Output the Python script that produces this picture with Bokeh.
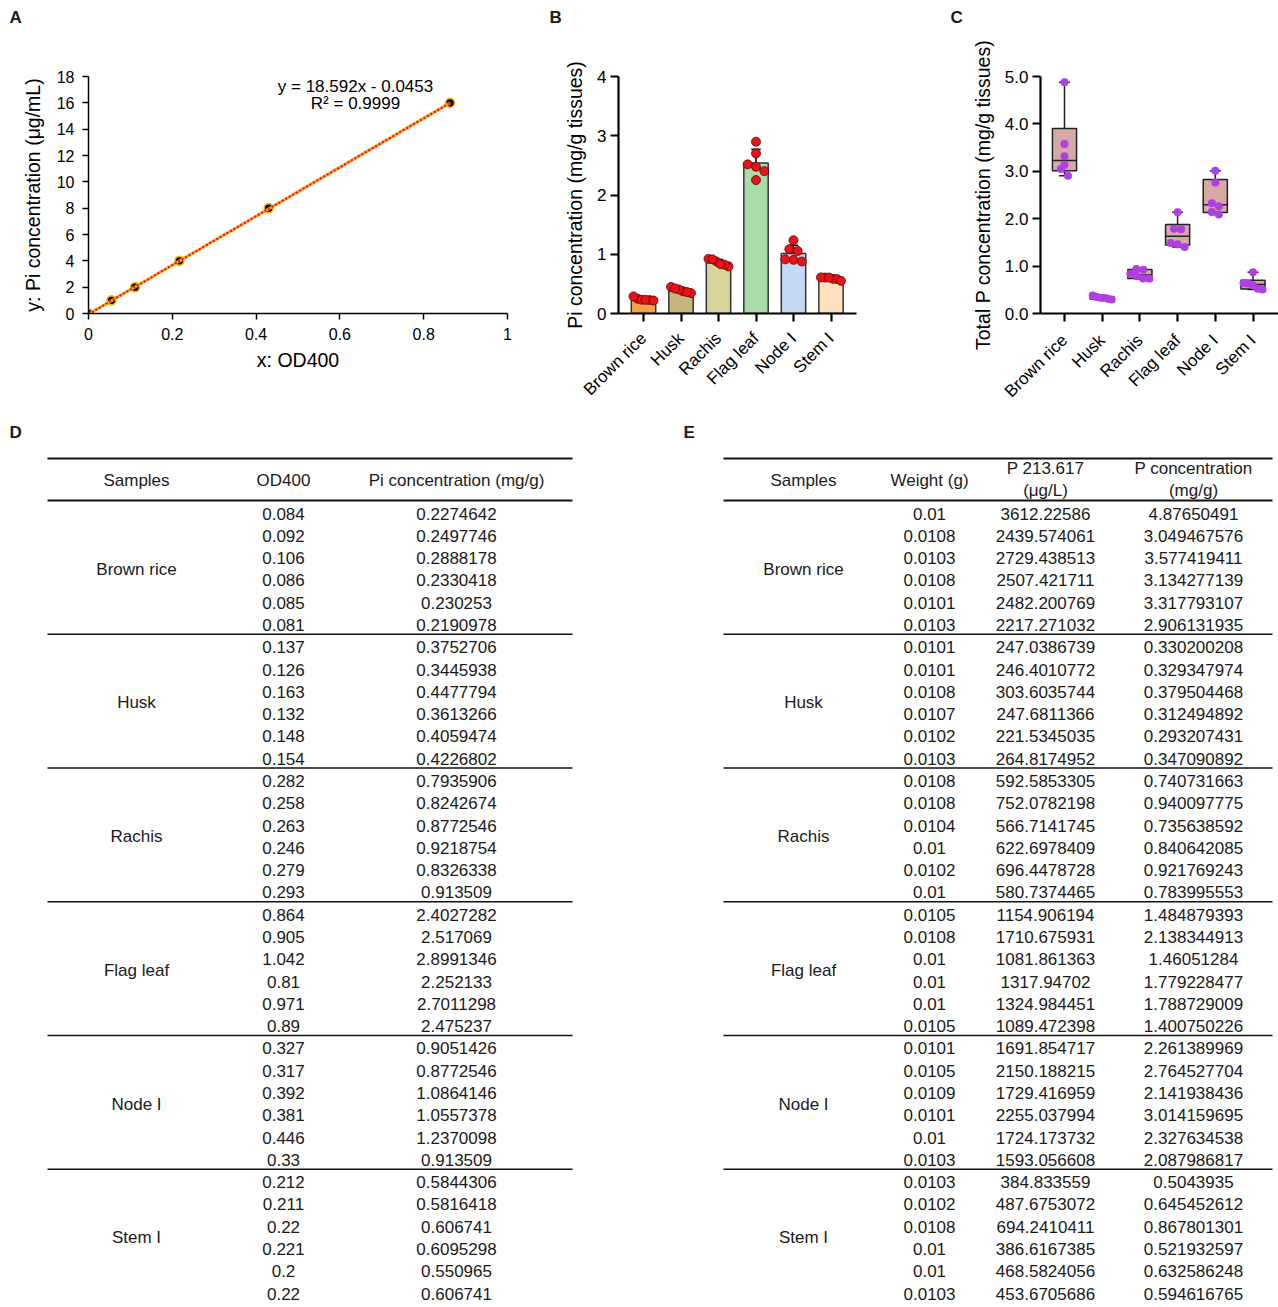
import math
import numpy as np
from bokeh.plotting import figure
from bokeh.layouts import row, column
from bokeh.models import Range1d, FixedTicker, Label, PrintfTickFormatter, CustomJSTickFormatter
from bokeh.core.properties import value
from bokeh.embed import file_html
from bokeh.resources import INLINE

FONT = "Liberation Sans"
TXT = "#1a1a1a"

# ---------------- data ----------------
TISSUES = ["Brown rice", "Husk", "Rachis", "Flag leaf", "Node I", "Stem I"]
PANELS = ["A", "B", "C"]

# Panel A: standard curve
STD_OD = [0.0, 0.055, 0.111, 0.217, 0.430, 0.863]
STD_PI = [0, 1, 2, 4, 8, 16]
FIT_SLOPE = 18.592
FIT_INTERCEPT = -0.0453
FIT_R2 = 0.9999

# Table D (6 samples per tissue)
D_OD400 = [0.084, 0.092, 0.106, 0.086, 0.085, 0.081,
           0.137, 0.126, 0.163, 0.132, 0.148, 0.154,
           0.282, 0.258, 0.263, 0.246, 0.279, 0.293,
           0.864, 0.905, 1.042, 0.81, 0.971, 0.89,
           0.327, 0.317, 0.392, 0.381, 0.446, 0.33,
           0.212, 0.211, 0.22, 0.221, 0.2, 0.22]
D_PI = [0.2274642, 0.2497746, 0.2888178, 0.2330418, 0.230253, 0.2190978,
        0.3752706, 0.3445938, 0.4477794, 0.3613266, 0.4059474, 0.4226802,
        0.7935906, 0.8242674, 0.8772546, 0.9218754, 0.8326338, 0.913509,
        2.4027282, 2.517069, 2.8991346, 2.252133, 2.7011298, 2.475237,
        0.9051426, 0.8772546, 1.0864146, 1.0557378, 1.2370098, 0.913509,
        0.5844306, 0.5816418, 0.606741, 0.6095298, 0.550965, 0.606741]

# Table E
E_WEIGHT = [0.01, 0.0108, 0.0103, 0.0108, 0.0101, 0.0103,
            0.0101, 0.0101, 0.0108, 0.0107, 0.0102, 0.0103,
            0.0108, 0.0108, 0.0104, 0.01, 0.0102, 0.01,
            0.0105, 0.0108, 0.01, 0.01, 0.01, 0.0105,
            0.0101, 0.0105, 0.0109, 0.0101, 0.01, 0.0103,
            0.0103, 0.0102, 0.0108, 0.01, 0.01, 0.0103]
E_P213 = [3612.22586, 2439.574061, 2729.438513, 2507.421711, 2482.200769, 2217.271032,
          247.0386739, 246.4010772, 303.6035744, 247.6811366, 221.5345035, 264.8174952,
          592.5853305, 752.0782198, 566.7141745, 622.6978409, 696.4478728, 580.7374465,
          1154.906194, 1710.675931, 1081.861363, 1317.94702, 1324.984451, 1089.472398,
          1691.854717, 2150.188215, 1729.416959, 2255.037994, 1724.173732, 1593.056608,
          384.833559, 487.6753072, 694.2410411, 386.6167385, 468.5824056, 453.6705686]
E_PCONC = [4.87650491, 3.049467576, 3.577419411, 3.134277139, 3.317793107, 2.906131935,
           0.330200208, 0.329347974, 0.379504468, 0.312494892, 0.293207431, 0.347090892,
           0.740731663, 0.940097775, 0.735638592, 0.840642085, 0.921769243, 0.783995553,
           1.484879393, 2.138344913, 1.46051284, 1.779228477, 1.788729009, 1.400750226,
           2.261389969, 2.764527704, 2.141938436, 3.014159695, 2.327634538, 2.087986817,
           0.5043935, 0.645452612, 0.867801301, 0.521932597, 0.632586248, 0.594616765]

D_HEADERS = ["Samples", "OD400", "Pi concentration (mg/g)"]
E_HEADERS = [["Samples"], ["Weight (g)"], ["P 213.617", "(μg/L)"], ["P concentration", "(mg/g)"]]

# ---------------- styles ----------------
BAR_COLORS = ["#f6a14a", "#c8b57c", "#d7d59c", "#aadcaa", "#c3d9f4", "#fde1be"]
BOX_FILL = "#d6a8a6"
DOT_RED = "#e6141b"
DOT_PURPLE = "#b03fe0"

STRIP_H = 30
TOP_H = 410


def style_axes(p, tick_size, label_size, line_w, tick_out):
    for ax in (p.xaxis[0], p.yaxis[0]):
        ax.axis_line_width = line_w
        ax.axis_line_color = "black"
        ax.major_tick_line_width = line_w
        ax.major_tick_line_color = "black"
        ax.minor_tick_line_color = None
        ax.major_tick_in = 0
        ax.major_tick_out = tick_out
        ax.major_label_text_font = FONT
        ax.major_label_text_font_size = tick_size
        ax.major_label_text_color = "black"
        ax.axis_label_text_font = FONT
        ax.axis_label_text_font_size = label_size
        ax.axis_label_text_font_style = "normal"
        ax.axis_label_text_color = "black"
    p.grid.visible = False
    p.outline_line_color = None
    p.background_fill_color = "white"


def row_swarm(vals, ux, uy, thr, smax, span):
    """Group dots of similar value into rows; spread each row horizontally."""
    n = len(vals)
    idx = sorted(range(n), key=lambda i: vals[i])
    rows = []
    for i in idx:
        if rows and (vals[i] - vals[rows[-1][0]]) * uy < thr:
            rows[-1].append(i)
        else:
            rows.append([i])
    offs = [0.0] * n
    for r in rows:
        r = sorted(r, key=lambda i: -vals[i])
        k = len(r)
        sp = smax if k < 2 else min(smax, span / (k - 1))
        for j, i in enumerate(r):
            offs[i] = (j - (k - 1) / 2.0) * sp / ux
    return offs


def plain_fig(w, h, x0, x1, y0, y1):
    p = figure(width=int(w), height=int(h), x_range=Range1d(x0, x1),
               y_range=Range1d(y1, y0), output_backend="svg", toolbar_location=None,
               min_border=0, x_axis_location=None, y_axis_location=None)
    p.grid.visible = False
    p.outline_line_color = None
    return p


def put_text(p, xsx, ysy, texts, size="17px", bold=False, align="center"):
    p.text(x=xsx, y=ysy, text=texts, text_font=value(FONT), text_font_size=size,
           text_font_style="bold" if bold else "normal", text_color=TXT,
           text_align=align, text_baseline="middle")


# ---------------- panel-letter strip ----------------
pS = plain_fig(1278, STRIP_H, 0, 1278, 0, STRIP_H)
put_text(pS, [9, 549, 950], [17, 17, 17], PANELS, size="17px", bold=True, align="left")

# ---------------- Panel A ----------------
A_W, A_H = 540, TOP_H - STRIP_H
A_BL, A_BR, A_BT, A_BB = 88, 33, 22, 79
pA = figure(width=A_W, height=A_H, x_range=Range1d(0, 1), y_range=Range1d(0, 18),
            output_backend="svg", toolbar_location=None,
            min_border_left=A_BL, min_border_right=A_BR, min_border_top=A_BT, min_border_bottom=A_BB)
style_axes(pA, "16px", "19.5px", 1.5, 6)
pA.xaxis.ticker = FixedTicker(ticks=[0, 0.2, 0.4, 0.6, 0.8, 1.0])
pA.xaxis.formatter = CustomJSTickFormatter(code="return String(Math.round(tick*10)/10);")
pA.yaxis.ticker = FixedTicker(ticks=list(range(0, 19, 2)))
pA.xaxis.axis_label = "x: OD400"
pA.yaxis.axis_label = "y: Pi concentration (μg/mL)"
pA.yaxis.major_label_standoff = 8
pA.xaxis.major_label_standoff = 8
pA.yaxis.axis_label_standoff = 10
pA.xaxis.axis_label_standoff = 6

pA.scatter(STD_OD, STD_PI, size=9, fill_color="black", line_color="#f2b705", line_width=1.6)
trend_x = [STD_OD[0], STD_OD[-1]]
trend_y = [FIT_SLOPE * x + FIT_INTERCEPT for x in trend_x]
pA.line(trend_x, trend_y, line_color="#ffa31a", line_width=3)
pA.line(trend_x, trend_y, line_color="#e8141c", line_width=2, line_dash="2 2")

A_fw = A_W - A_BL - A_BR
A_fh = A_H - A_BT - A_BB
ax_px, ay_px = A_fw / 1.0, A_fh / 18.0
A_y0 = STRIP_H + A_BT + A_fh  # page y of data y=0
pA.add_layout(Label(x=(355 - A_BL) / ax_px, y=(A_y0 - 64) / ay_px,
                    text="y = %sx - %s" % (FIT_SLOPE, abs(FIT_INTERCEPT)),
                    text_font=FONT, text_font_size="17px", text_color="black",
                    text_align="center", text_baseline="middle"))
pA.add_layout(Label(x=(355 - A_BL) / ax_px, y=(A_y0 - 84) / ay_px,
                    text="R² = %s" % FIT_R2,
                    text_font=FONT, text_font_size="17px", text_color="black",
                    text_align="center", text_baseline="middle"))

# ---------------- Panel B ----------------
B_W, B_H = 400, TOP_H - STRIP_H
B_BL, B_BR, B_BT, B_BB = 78, 84, 46, 97
B_UX = 37.5
B_fw = B_W - B_BL - B_BR
B_fh = B_H - B_BT - B_BB
B_x0 = -25 / B_UX
pB = figure(width=B_W, height=B_H, x_range=Range1d(B_x0, B_x0 + B_fw / B_UX), y_range=Range1d(0, 4),
            output_backend="svg", toolbar_location=None,
            min_border_left=B_BL, min_border_right=B_BR, min_border_top=B_BT, min_border_bottom=B_BB)
style_axes(pB, "17px", "19.5px", 2.2, 8)
pB.xaxis.ticker = FixedTicker(ticks=list(range(6)))
pB.xaxis.major_label_overrides = {i: t for i, t in enumerate(TISSUES)}
pB.xaxis.major_label_orientation = math.pi / 4
pB.yaxis.ticker = FixedTicker(ticks=[0, 1, 2, 3, 4])
pB.yaxis.axis_label = "Pi concentration (mg/g tissues)"
pB.yaxis.major_label_standoff = 4
pB.xaxis.major_label_standoff = 14
pB.yaxis.axis_label_standoff = 8

pi_arr = np.array(D_PI).reshape(6, 6)
b_mean = pi_arr.mean(axis=1)
b_sd = pi_arr.std(axis=1, ddof=1)
xs = np.arange(6)
pB.vbar(x=xs, top=b_mean, bottom=0, width=0.65, fill_color=BAR_COLORS,
        line_color="#333333", line_width=1.5)
pB.segment(x0=xs, y0=b_mean, x1=xs, y1=b_mean + b_sd, line_color="black", line_width=1.6)
pB.segment(x0=xs - 0.125, y0=b_mean + b_sd, x1=xs + 0.125, y1=b_mean + b_sd,
           line_color="black", line_width=1.6)
B_UY = B_fh / 4.0
bx, by = [], []
for g in range(6):
    vals = list(pi_arr[g])
    offs = row_swarm(vals, B_UX, B_UY, 8.0, 8.3, 20.0)
    bx += [g + o for o in offs]
    by += vals
pB.scatter(bx, by, size=9, fill_color=DOT_RED, line_color="#6a0000", line_width=0.8)

# ---------------- Panel C ----------------
C_W, C_H = 338, TOP_H - STRIP_H
C_BL, C_BR, C_BT, C_BB = 100, 0, 46, 96
C_UX = 37.7
C_fw = C_W - C_BL - C_BR
C_fh = C_H - C_BT - C_BB
C_x0 = -24 / C_UX
pC = figure(width=C_W, height=C_H, x_range=Range1d(C_x0, C_x0 + C_fw / C_UX), y_range=Range1d(0, 5),
            output_backend="svg", toolbar_location=None,
            min_border_left=C_BL, min_border_right=C_BR, min_border_top=C_BT, min_border_bottom=C_BB)
style_axes(pC, "17px", "19.5px", 2.2, 8)
pC.xaxis.ticker = FixedTicker(ticks=list(range(6)))
pC.xaxis.major_label_overrides = {i: t for i, t in enumerate(TISSUES)}
pC.xaxis.major_label_orientation = math.pi / 4
pC.yaxis.ticker = FixedTicker(ticks=[0, 1, 2, 3, 4, 5])
pC.yaxis.formatter = PrintfTickFormatter(format="%.1f")
pC.yaxis.axis_label = "Total P concentration (mg/g tissues)"
pC.yaxis.major_label_standoff = 4
pC.xaxis.major_label_standoff = 16
pC.yaxis.axis_label_standoff = 8

p_arr = np.array(E_PCONC).reshape(6, 6)
q1 = np.percentile(p_arr, 25, axis=1, method="weibull")
q3 = np.percentile(p_arr, 75, axis=1, method="weibull")
med = np.median(p_arr, axis=1)
mn = p_arr.min(axis=1)
mx = p_arr.max(axis=1)
pC.segment(x0=xs, y0=q3, x1=xs, y1=mx, line_color="#222222", line_width=1.5)
pC.segment(x0=xs, y0=q1, x1=xs, y1=mn, line_color="#222222", line_width=1.5)
pC.segment(x0=xs - 0.145, y0=mx, x1=xs + 0.145, y1=mx, line_color="#222222", line_width=1.5)
pC.segment(x0=xs - 0.145, y0=mn, x1=xs + 0.145, y1=mn, line_color="#222222", line_width=1.5)
pC.vbar(x=xs, top=q3, bottom=q1, width=0.64, fill_color=BOX_FILL, line_color="#222222", line_width=1.5)
pC.segment(x0=xs - 0.32, y0=med, x1=xs + 0.32, y1=med, line_color="#222222", line_width=1.5)
C_UY = C_fh / 5.0
cx, cy = [], []
for g in range(6):
    vals = list(p_arr[g])
    offs = row_swarm(vals, C_UX, C_UY, 7.0, 7.0, 19.0)
    cx += [g + o for o in offs]
    cy += vals
pC.scatter(cx, cy, size=8, fill_color=DOT_PURPLE, line_color=None)

# ---------------- Tables ----------------
BOT_Y = 1307
ROW0 = 513.0
ROW_LAST = 1293.0
ROW_H = (ROW_LAST - ROW0) / 35
row_y = [ROW0 + i * ROW_H for i in range(36)]
grp_y = [(row_y[6 * g] + row_y[6 * g + 5]) / 2 for g in range(6)]
sep_y = [row_y[6 * g + 5] + 0.42 * ROW_H for g in range(5)]
LINE_TOP, LINE_HEAD = 458, 500


def put_lines(p, lx0, lx1):
    p.segment(x0=[lx0, lx0], y0=[LINE_TOP, LINE_HEAD], x1=[lx1, lx1], y1=[LINE_TOP, LINE_HEAD],
              line_color="#111111", line_width=2)
    p.segment(x0=[lx0] * 5, y0=sep_y, x1=[lx1] * 5, y1=sep_y, line_color="#111111", line_width=1.5)


# Table D
pD = plain_fig(680, BOT_Y - TOP_H, 0, 680, TOP_H, BOT_Y)
D_COLS = [136, 283, 456]
put_lines(pD, 47, 572)
put_text(pD, D_COLS, [480] * 3, D_HEADERS)
put_text(pD, [D_COLS[0]] * 6, grp_y, TISSUES)
put_text(pD, [D_COLS[1]] * 36, row_y, [str(v) for v in D_OD400])
put_text(pD, [D_COLS[2]] * 36, row_y, [str(v) for v in D_PI])
put_text(pD, [9], [432], ["D"], size="17px", bold=True, align="left")

# Table E
pE = plain_fig(598, BOT_Y - TOP_H, 680, 1278, TOP_H, BOT_Y)
E_COLS = [803, 929, 1045, 1193]
put_lines(pE, 723, 1272)
hx, hy, ht = [], [], []
for c, lines in zip(E_COLS, E_HEADERS):
    if len(lines) == 1:
        hx.append(c); hy.append(480); ht.append(lines[0])
    else:
        hx += [c, c]; hy += [468, 490]; ht += lines
put_text(pE, hx, hy, ht)
put_text(pE, [E_COLS[0]] * 6, grp_y, TISSUES)
put_text(pE, [E_COLS[1]] * 36, row_y, [str(v) for v in E_WEIGHT])
put_text(pE, [E_COLS[2]] * 36, row_y, [str(v) for v in E_P213])
put_text(pE, [E_COLS[3]] * 36, row_y, [str(v) for v in E_PCONC])
put_text(pE, [683], [432], ["E"], size="17px", bold=True, align="left")

layout = column(pS, row(pA, pB, pC), row(pD, pE))
open("out.html", "w").write(file_html(layout, INLINE))
